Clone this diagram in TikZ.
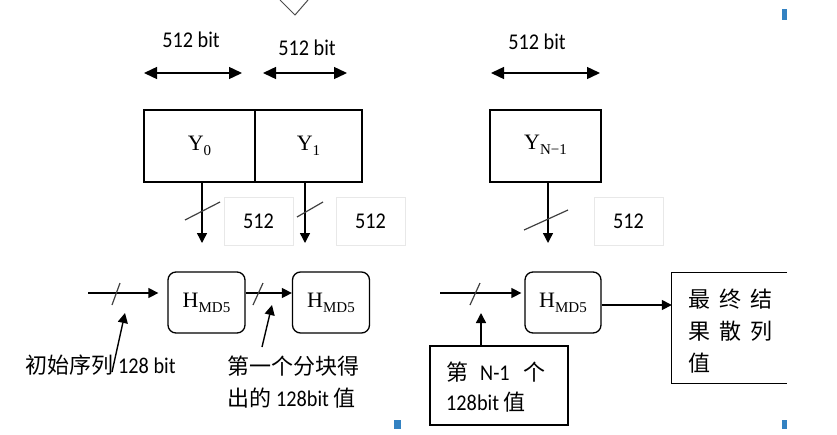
\documentclass[tikz,border=0pt]{standalone}
\usepackage{fontspec}
\setmainfont{Carlito}[FakeStretch=0.9]
\newfontfamily\cjk{Noto Sans CJK SC}
\newfontfamily\serf{Liberation Serif}
\usetikzlibrary{arrows.meta}
\tikzset{
  ln/.style={line width=1.4pt, draw=black},
  arr/.style={ln, -{Triangle[length=10pt,width=10pt]}},
  darr/.style={ln, {Triangle[length=13pt,width=12pt]}-{Triangle[length=13pt,width=12pt]}},
  blk/.style={draw, line width=1.3pt, minimum height=72pt, inner sep=0pt},
  hbox/.style={draw, line width=1.3pt, rounded corners=8pt, minimum width=77pt, minimum height=61pt, inner sep=0pt},
  graybox/.style={draw=black!9, line width=0.8pt, minimum width=69pt, minimum height=48pt, inner sep=0pt},
  lab/.style={font=\fontsize{22.5}{22.5}\selectfont, inner sep=0pt},
  cjklab/.style={font=\cjk\fontsize{22}{32}\selectfont, inner sep=0pt, align=left},
  slash/.style={line width=1.2pt, draw=black!75},
  blue/.style={fill=blue!45!cyan!70!black!80, draw=none}
}
\newcommand{\Hmd}{{\serf\fontsize{22}{22}\selectfont H\raisebox{-5pt}{\fontsize{15}{15}\selectfont MD5}}}
\begin{document}
\begin{tikzpicture}[x=1pt,y=-1pt]
\useasboundingbox (0,0) rectangle (837,434);
% top V mark
\coordinate (va) at (280,0); \coordinate (vb) at (295,15); \coordinate (vc) at (308,0);
\draw[line width=1pt, draw=black!70] (va) -- (vb) -- (vc);
% bit labels
\node[lab] (l1) at (191,40) {512 bit};
\node[lab] (l2) at (307,48) {512 bit};
\node[lab] (l3) at (537,42) {512 bit};
\coordinate (d1a) at (144,73); \coordinate (d1b) at (242,73);
\coordinate (d2a) at (263,73); \coordinate (d2b) at (347,73);
\coordinate (d3a) at (491,73); \coordinate (d3b) at (600,73);
\draw[darr] (d1a) -- (d1b);
\draw[darr] (d2a) -- (d2b);
\draw[darr] (d3a) -- (d3b);
% blocks
\node[blk, minimum width=111pt] (y0) at (199.5,146) {{\serf\fontsize{22}{22}\selectfont Y\raisebox{-5pt}{\fontsize{15}{15}\selectfont 0}}};
\node[blk, minimum width=107pt] (y1) at (308.5,146) {{\serf\fontsize{22}{22}\selectfont Y\raisebox{-5pt}{\fontsize{15}{15}\selectfont 1}}};
\node[blk, minimum width=111pt] (yn) at (545.5,146) {\raisebox{8pt}{\serf\fontsize{22}{22}\selectfont Y\raisebox{-5pt}{\fontsize{15}{15}\selectfont N−1}}};
% gray 512 boxes
\node[graybox] (g1) at (258.5,221) {};
\node[graybox] (g2) at (370.5,221) {};
\node[graybox] (g3) at (628.5,221) {};
\node[lab] at (g1) {512};
\node[lab] at (g2) {512};
\node[lab] at (g3) {512};
% down arrows
\coordinate (a0) at (202,243); \coordinate (a1) at (305,243); \coordinate (a2) at (548,243);
\draw[arr] (y0.south -| a0) -- (a0);
\draw[arr] (y1.south -| a1) -- (a1);
\draw[arr] (yn.south -| a2) -- (a2);
\draw[slash] (185,220) -- (220,202);
\draw[slash] (297,217) -- (323,202);
\draw[slash] (524,230) -- (568,210);
% H boxes
\node[hbox] (h1) at (206.5,302.5) {\Hmd};
\node[hbox] (h2) at (331,302.5) {\Hmd};
\node[hbox, minimum width=76pt] (h3) at (563,302.5) {\Hmd};
% chaining arrows
\coordinate (in1) at (88,293);
\coordinate (in3) at (440,293);
\draw[arr, shorten >=9pt] (in1) -- (in1 -| h1.west);
\draw[arr] (h1.east |- in1) -- (h2.west |- in1);
\draw[arr, shorten >=3pt] (in3) -- (in3 -| h3.west);
\draw[slash] (112,305) -- (120,283);
\draw[slash] (253,305) -- (263,283);
\draw[slash] (470,305) -- (480,283);
% final box
\node[minimum width=115pt, minimum height=110pt, inner sep=0pt] (fin) at (729.5,328) {};
\draw[line width=1.3pt] (fin.north east) -- (fin.north west) -- (fin.south west) -- (fin.south east);
\node[cjklab, anchor=west] (fintxt) at (688,331) {最\hspace{9pt}终\hspace{9pt}结\\果\hspace{9pt}散\hspace{9pt}列\\值};
\draw[arr] ([yshift=-2.5pt]h3.east) -- ([yshift=-2.5pt]h3.east -| fin.west);
% labels with pointers
\node[cjklab, anchor=west] (lab1) at (25,365) {初始序列 {\fontsize{22.5}{22.5}\selectfont\rmfamily 128 bit}};
\node[cjklab, anchor=west] (lab2) at (227,382) {第一个分块得\\出的 {\fontsize{22.5}{22.5}\selectfont\rmfamily 128bit} 值};
\coordinate (t1) at (112,372); \coordinate (p1) at (125,313);
\coordinate (t2) at (262,347); \coordinate (p2) at (272,305);
\draw[arr] (t1) -- (p1);
\draw[arr] (t2) -- (p2);
% N-1 box
\node[draw, line width=1.3pt, minimum width=138pt, minimum height=79pt, inner sep=0pt] (nm1) at (499,385.5) {};
\node[cjklab, anchor=west] (nm1txt) at (446,387) {第\hspace{12pt}{\fontsize{22.5}{22.5}\selectfont\rmfamily N-1}\hspace{14pt}个\\[-2pt]{\fontsize{22.5}{22.5}\selectfont\rmfamily 128bit} 值};
\coordinate (p3) at (481,313);
\draw[arr] (nm1.north -| p3) -- (p3);
% small blue marks
\fill[blue] (782,9) rectangle (787,20);
\fill[blue] (394,420) rectangle (401,429);
\fill[blue] (782,420) rectangle (787,429);
\end{tikzpicture}
\end{document}
